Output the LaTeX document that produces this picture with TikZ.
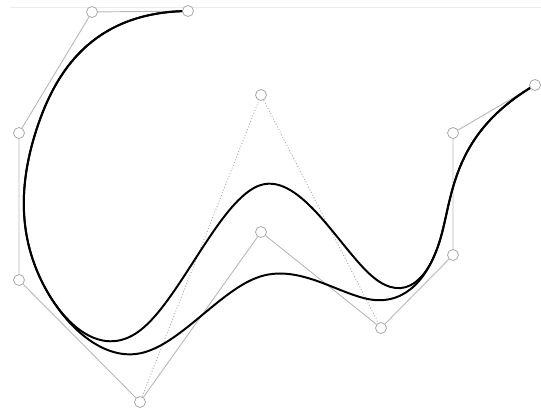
\documentclass[tikz,border=0pt]{standalone}
\usetikzlibrary{calc,backgrounds}

\begin{document}
\begin{tikzpicture}[
  x=0.05cm, y=-0.05cm,
  knot/.style={circle, draw=gray!70, fill=white, inner sep=0pt, minimum size=0.55cm, line width=1.1pt},
  hull/.style={draw=gray!55, line width=1.3pt},
  althull/.style={draw=gray!70, dash pattern=on 1.4pt off 2.8pt, line width=1.2pt},
  spline/.style={draw=black, line width=2.8pt}
]
\useasboundingbox (0,0) rectangle (541,409);
\draw[gray!15, line width=1pt] (10,7) coordinate (tl) -- (541,7) coordinate (tr);

% control points
\coordinate (c0) at (188,11);
\coordinate (c1) at (92,12);
\coordinate (c2) at (19,133);
\coordinate (c3) at (19,280);
\coordinate (c4) at (140,402);
\coordinate (c5) at (261,232);
\coordinate (c6) at (381,328);
\coordinate (c7) at (453,255);
\coordinate (c8) at (453,133);
\coordinate (c9) at (535,85);
\coordinate (d5) at (261,95);

\foreach \i in {0,...,9}
  \node[knot] (k\i) at (c\i) {};
\node[knot] (kd) at (d5) {};

\begin{pgfonlayer}{background}
\draw[hull] (k0) -- (k1) -- (k2) -- (k3) -- (k4) -- (k5) -- (k6) -- (k7) -- (k8) -- (k9);
\draw[althull] (k4) -- (kd) -- (k6);

% clamped cubic B-splines, one per middle point
\foreach \m in {c5,d5}
  \draw[spline] (c0) .. controls (c1) and ($(c1)!.5!(c2)$)
    .. ($1/4*(c1)+7/12*(c2)+1/6*(c3)$)
    .. controls ($(c2)!1/3!(c3)$) and ($(c2)!2/3!(c3)$)
    .. ($1/6*(c2)+2/3*(c3)+1/6*(c4)$)
    .. controls ($(c3)!1/3!(c4)$) and ($(c3)!2/3!(c4)$)
    .. ($1/6*(c3)+2/3*(c4)+1/6*(\m)$)
    .. controls ($(c4)!1/3!(\m)$) and ($(c4)!2/3!(\m)$)
    .. ($1/6*(c4)+2/3*(\m)+1/6*(c6)$)
    .. controls ($(\m)!1/3!(c6)$) and ($(\m)!2/3!(c6)$)
    .. ($1/6*(\m)+2/3*(c6)+1/6*(c7)$)
    .. controls ($(c6)!1/3!(c7)$) and ($(c6)!2/3!(c7)$)
    .. ($1/6*(c6)+7/12*(c7)+1/4*(c8)$)
    .. controls ($(c7)!.5!(c8)$) and (c8) .. (c9);
\end{pgfonlayer}
\end{tikzpicture}
\end{document}
